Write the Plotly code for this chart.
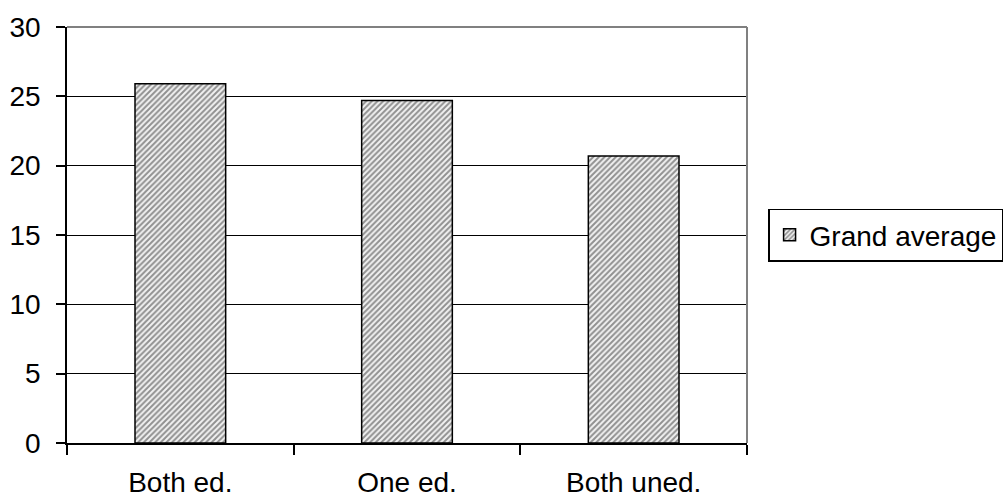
import plotly.graph_objects as go

categories = ["Both ed.", "One ed.", "Both uned."]
grand_average = [25.9, 24.7, 20.7]
y_ticks = [0, 5, 10, 15, 20, 25, 30]

FONT = "Liberation Sans, Arial, sans-serif"

fig = go.Figure()
fig.add_trace(go.Bar(
    x=categories,
    y=grand_average,
    name="Grand average",
    width=0.4,
    marker=dict(
        color="white",
        line=dict(color="black", width=1.5),
        pattern=dict(shape="/", fgcolor="#2e2e2e", bgcolor="#f2f2f2",
                     size=4, solidity=0.5),
    ),
))

fig.update_layout(
    width=1004,
    height=500,
    margin=dict(l=67, r=257, t=27, b=57, autoexpand=False),
    paper_bgcolor="white",
    plot_bgcolor="white",
    font=dict(family=FONT, size=28, color="black"),
    showlegend=True,
    legend=dict(
        x=1.031, y=0.5, xanchor="left", yanchor="middle",
        bordercolor="black", borderwidth=1.5,
        font=dict(family=FONT, size=28, color="black"),
        itemwidth=30,
    ),
)

fig.update_xaxes(
    automargin=False,
    showline=True, linecolor="black", linewidth=1.5,
    ticks="outside", tickson="boundaries", ticklen=10, tickcolor="black",
    tickwidth=1.5, showgrid=False, ticklabelstandoff=14,
    tickfont=dict(family=FONT, size=28, color="black"),
)
fig.update_yaxes(
    automargin=False,
    range=[0, 30], tickvals=y_ticks,
    showline=True, linecolor="black", linewidth=1.5,
    ticks="outside", ticklen=9, tickcolor="black", tickwidth=1.5,
    showgrid=True, gridcolor="black", gridwidth=1.2,
    zeroline=False, ticklabelstandoff=10,
    tickfont=dict(family=FONT, size=28, color="black"),
)

# Grey frame on the top and right of the plotting area
fig.add_shape(type="line", xref="paper", yref="paper", x0=0, x1=1, y0=1, y1=1,
              line=dict(color="#808080", width=2), layer="above")
fig.add_shape(type="line", xref="paper", yref="paper", x0=1, x1=1, y0=0, y1=1,
              line=dict(color="#808080", width=2), layer="above")

fig.write_html("out.html")
